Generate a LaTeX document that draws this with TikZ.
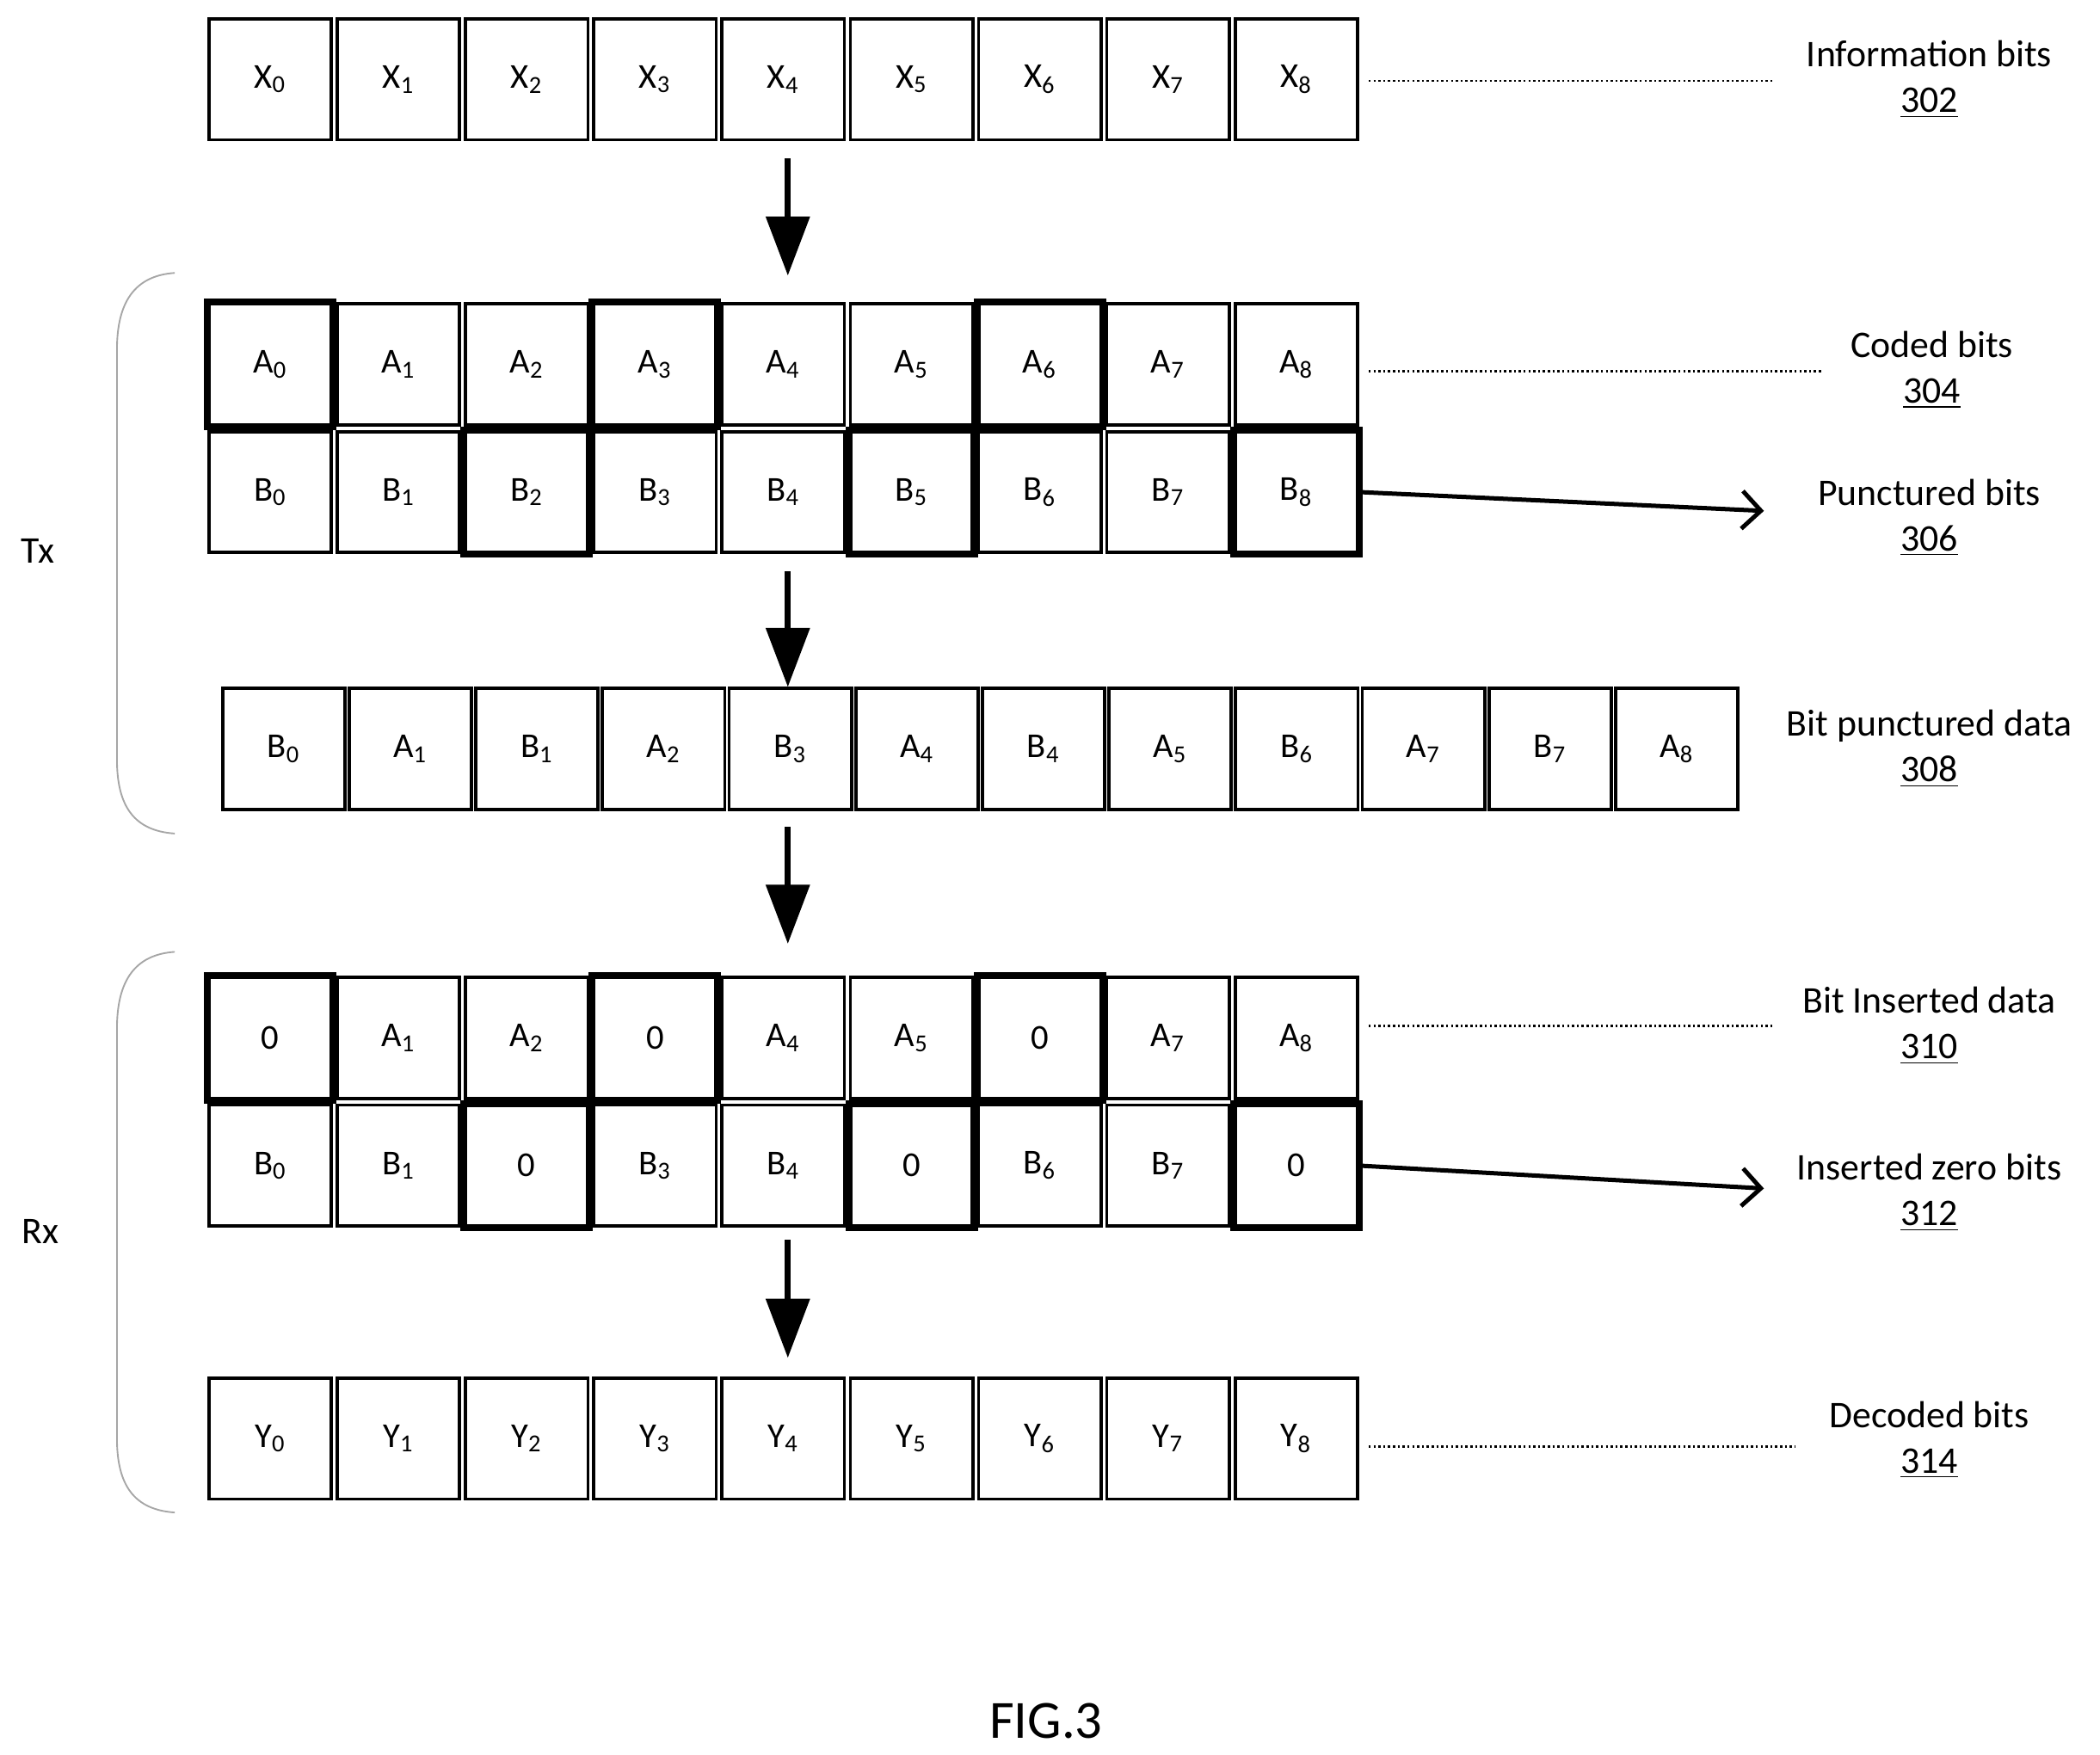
\documentclass[tikz,border=0pt]{standalone}
\usepackage{fontspec}
\setmainfont{Carlito}
\usetikzlibrary{arrows.meta}
\begin{document}
\begin{tikzpicture}[x=0.5pt,y=-0.5pt,
 cell/.style={draw,line width=1.2pt,minimum width=45.5pt,minimum height=45pt,inner sep=0pt,font=\fontsize{13}{15}\selectfont},
 bold/.style={line width=2.6pt},
 lbl/.style={font=\fontsize{14}{17}\selectfont,align=center},
 dots/.style={densely dotted,line width=0.8pt},
 down/.style={line width=2.2pt,-{Triangle[length=22pt,width=16pt]}},
 side/.style={line width=1.6pt,-{Straight Barb[length=7pt,width=14pt]}},
 brace/.style={gray!70,line width=0.6pt}]
\useasboundingbox (0,0) rectangle (1562,1305);
% rows
\foreach \i in {0,...,8}{
 \pgfmathsetmacro\xx{201+95.4*\i}
 \node[cell] (x\i) at (\xx,59) {X\textsubscript{\i}};
 \node[cell] (a\i) at (\xx,271) {A\textsubscript{\i}};
 \node[cell] (b\i) at (\xx,366) {B\textsubscript{\i}};
 \node[cell] (y\i) at (\xx,1070) {Y\textsubscript{\i}};
}
\foreach \i/\t in {0/0,1/A\textsubscript{1},2/A\textsubscript{2},3/0,4/A\textsubscript{4},5/A\textsubscript{5},6/0,7/A\textsubscript{7},8/A\textsubscript{8}}{
 \pgfmathsetmacro\xx{201+95.4*\i}
 \node[cell] (c\i) at (\xx,772) {\t};}
\foreach \i/\t in {0/B\textsubscript{0},1/B\textsubscript{1},2/0,3/B\textsubscript{3},4/B\textsubscript{4},5/0,6/B\textsubscript{6},7/B\textsubscript{7},8/0}{
 \pgfmathsetmacro\xx{201+95.4*\i}
 \node[cell] (d\i) at (\xx,867) {\t};}
\foreach \i/\t in {0/B\textsubscript{0},1/A\textsubscript{1},2/B\textsubscript{1},3/A\textsubscript{2},4/B\textsubscript{3},5/A\textsubscript{4},6/B\textsubscript{4},7/A\textsubscript{5},8/B\textsubscript{6},9/A\textsubscript{7},10/B\textsubscript{7},11/A\textsubscript{8}}{
 \pgfmathsetmacro\xx{211+94.2*\i}
 \node[cell] (p\i) at (\xx,557) {\t};}
\foreach \n in {a0,a3,a6,b2,b5,b8,c0,c3,c6,d2,d5,d8}{\draw[bold] (\n.south west) rectangle (\n.north east);}
% arrows
\coordinate (t1) at (586,118); \coordinate (h1) at (586,205);
\coordinate (t2) at (586,425); \coordinate (h2) at (586,511);
\coordinate (t3) at (586,615); \coordinate (h3) at (586,702);
\coordinate (t4) at (586,922); \coordinate (h4) at (586,1010);
\foreach \k in {1,2,3,4}{\draw[down] (t\k) -- (h\k);}
% labels
\node[lbl] (l302) at (1435,59) {Information bits\\\underline{302}};
\node[lbl] (l304) at (1437,275) {Coded bits\\\underline{304}};
\node[lbl] (l306) at (1435,385) {Punctured bits\\\underline{306}};
\node[lbl] (l308) at (1435,557) {Bit punctured data\\\underline{308}};
\node[lbl] (l310) at (1435,763) {Bit Inserted data\\\underline{310}};
\node[lbl] (l312) at (1435,887) {Inserted zero bits\\\underline{312}};
\node[lbl] (l314) at (1435,1071) {Decoded bits\\\underline{314}};
\coordinate (e1) at (1318,60); \coordinate (e2) at (1355,276);
\coordinate (e3) at (1318,763); \coordinate (e4) at (1335,1076);
\draw[dots] (1018,60) -- (e1);
\draw[dots] (1018,276) -- (e2);
\draw[dots] (1018,763) -- (e3);
\draw[dots] (1018,1076) -- (e4);
\coordinate (s1) at (1312,380); \coordinate (s2) at (1312,884);
\draw[side] (b8.east) -- (s1);
\draw[side] (d8.east) -- (s2);
% braces
\draw[brace] (130,203) .. controls (100,205) and (87,225) .. (87,260) -- (87,565) .. controls (87,600) and (100,618) .. (130,620);
\draw[brace] (130,708) .. controls (100,710) and (87,730) .. (87,765) -- (87,1070) .. controls (87,1105) and (100,1123) .. (130,1125);
\node[lbl] (tx) at (28,410) {Tx};
\node[lbl] (rx) at (30,916) {Rx};
\node[font=\fontsize{20}{24}\selectfont] (fig) at (778,1280) {FIG.3};
\end{tikzpicture}
\end{document}
